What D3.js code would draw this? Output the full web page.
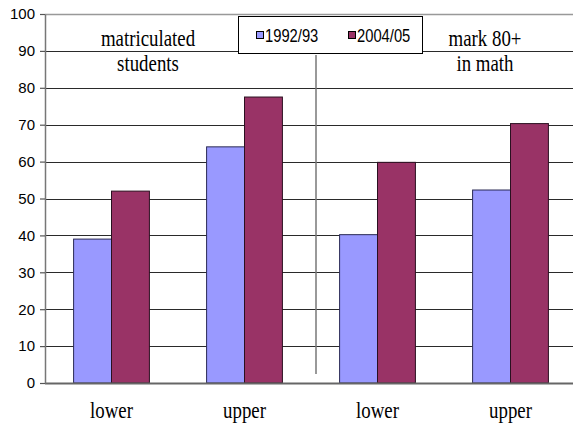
<!DOCTYPE html>
<html>
<head>
<meta charset="utf-8">
<script src="https://cdn.jsdelivr.net/npm/d3@7/dist/d3.min.js"></script>
<style>
  html, body { margin: 0; padding: 0; background: #fff; }
  svg { display: block; }
</style>
</head>
<body>
<svg id="chart" width="573" height="430"></svg>
<script>
// Share of learners (%) by school group, two survey years
const categories = ["lower", "upper", "lower", "upper"];
const panelTitles = [["matriculated", "students"], ["mark 80+", "in math"]];
const seriesNames = ["1992/93", "2004/05"];
const values1992 = [39, 64, 40.2, 52.3];
const values2004 = [52, 77.5, 59.8, 70.3];
const yTicks = [0, 10, 20, 30, 40, 50, 60, 70, 80, 90, 100];
const colors = ["#9999ff", "#993366"];

const W = 573, H = 430;
const plotLeft = 45, plotRight = 577, plotTop = 14, plotBottom = 383;
const stretch = 0.82; // labels use tall, horizontally condensed glyphs
const serifFont = "Liberation Serif";
const sansFont = "Liberation Sans";

const svg = d3.select("#chart");

const y = d3.scaleLinear().domain([0, 100]).range([plotBottom, plotTop]);
const x0 = d3.scaleBand()
  .domain(d3.range(categories.length))
  .range([plotLeft, plotRight])
  .paddingInner(0.43)
  .paddingOuter(0.215);
const x1 = d3.scaleBand().domain(seriesNames).range([0, x0.bandwidth()]);

// horizontal gridlines
svg.append("g").selectAll("line")
  .data(yTicks.filter(t => t > 0))
  .join("line")
  .attr("x1", plotLeft).attr("x2", W)
  .attr("y1", d => Math.round(y(d)) + 0.5).attr("y2", d => Math.round(y(d)) + 0.5)
  .attr("stroke", d => d === 100 ? "#999" : "#2a2a2a")
  .attr("stroke-width", d => d === 100 ? 1.5 : 1.2);

// divider between the two panels
const divX = (x0(1) + x0(2) + x0.bandwidth()) / 2 + 5;
svg.append("line")
  .attr("x1", divX).attr("x2", divX)
  .attr("y1", 55).attr("y2", 374)
  .attr("stroke", "#777").attr("stroke-width", 1.5);

// bars
const rows = categories.map((c, i) => ({ i, vals: [values1992[i], values2004[i]] }));
const groups = svg.append("g").selectAll("g")
  .data(rows)
  .join("g")
  .attr("transform", d => `translate(${x0(d.i)},0)`);
groups.selectAll("rect")
  .data(d => d.vals.map((v, k) => ({ k, v })))
  .join("rect")
  .attr("x", d => x1(seriesNames[d.k]))
  .attr("width", x1.bandwidth())
  .attr("y", d => y(d.v))
  .attr("height", d => y(0) - y(d.v))
  .attr("fill", d => colors[d.k])
  .attr("stroke", d => d.k === 0 ? "#2a2a55" : "#2a1020")
  .attr("stroke-width", 1);

// bottom axis line
svg.append("line")
  .attr("x1", plotLeft).attr("x2", W)
  .attr("y1", plotBottom + 0.5).attr("y2", plotBottom + 0.5)
  .attr("stroke", "#666").attr("stroke-width", 2);

// y axis
const yAxis = d3.axisLeft(y).tickValues(yTicks).tickSize(5).tickSizeOuter(0).tickPadding(5);
const ga = svg.append("g").attr("transform", `translate(${plotLeft},0)`).call(yAxis)
  .attr("font-family", sansFont).attr("font-size", 15);
ga.select(".domain").attr("stroke", "#777").attr("stroke-width", 1.5);
ga.selectAll(".tick line").attr("stroke", "#555").attr("stroke-width", 1.2);
ga.selectAll(".tick text").attr("fill", "#000");

// category labels
svg.append("g")
  .attr("font-family", serifFont).attr("font-size", 23)
  .selectAll("text")
  .data(categories)
  .join("text")
  .attr("transform", (d, i) => `translate(${x0(i) + x0.bandwidth() / 2},418) scale(${stretch},1)`)
  .attr("text-anchor", "middle")
  .text(d => d);

// panel titles
const titleX = [148, 485];
const titles = svg.append("g").attr("font-family", serifFont).attr("font-size", 23);
panelTitles.forEach((lines, p) => {
  lines.forEach((t, j) => {
    titles.append("text")
      .attr("transform", `translate(${titleX[p]},${46 + j * 25}) scale(${stretch},1)`)
      .attr("text-anchor", "middle")
      .text(t);
  });
});

// legend
const lg = svg.append("g").attr("font-family", sansFont).attr("font-size", 18);
lg.append("rect")
  .attr("x", 238.5).attr("y", 16.5).attr("width", 184).attr("height", 37)
  .attr("fill", "#fff").attr("stroke", "#000").attr("stroke-width", 1);
const legendX = [256, 348];
seriesNames.forEach((name, k) => {
  lg.append("rect")
    .attr("x", legendX[k] + 0.5).attr("y", 31.5).attr("width", 7).attr("height", 7)
    .attr("fill", colors[k]).attr("stroke", "#000").attr("stroke-width", 1);
  lg.append("text")
    .attr("transform", `translate(${legendX[k] + 9},41.5) scale(${stretch},1)`)
    .text(name);
});
</script>
</body>
</html>
